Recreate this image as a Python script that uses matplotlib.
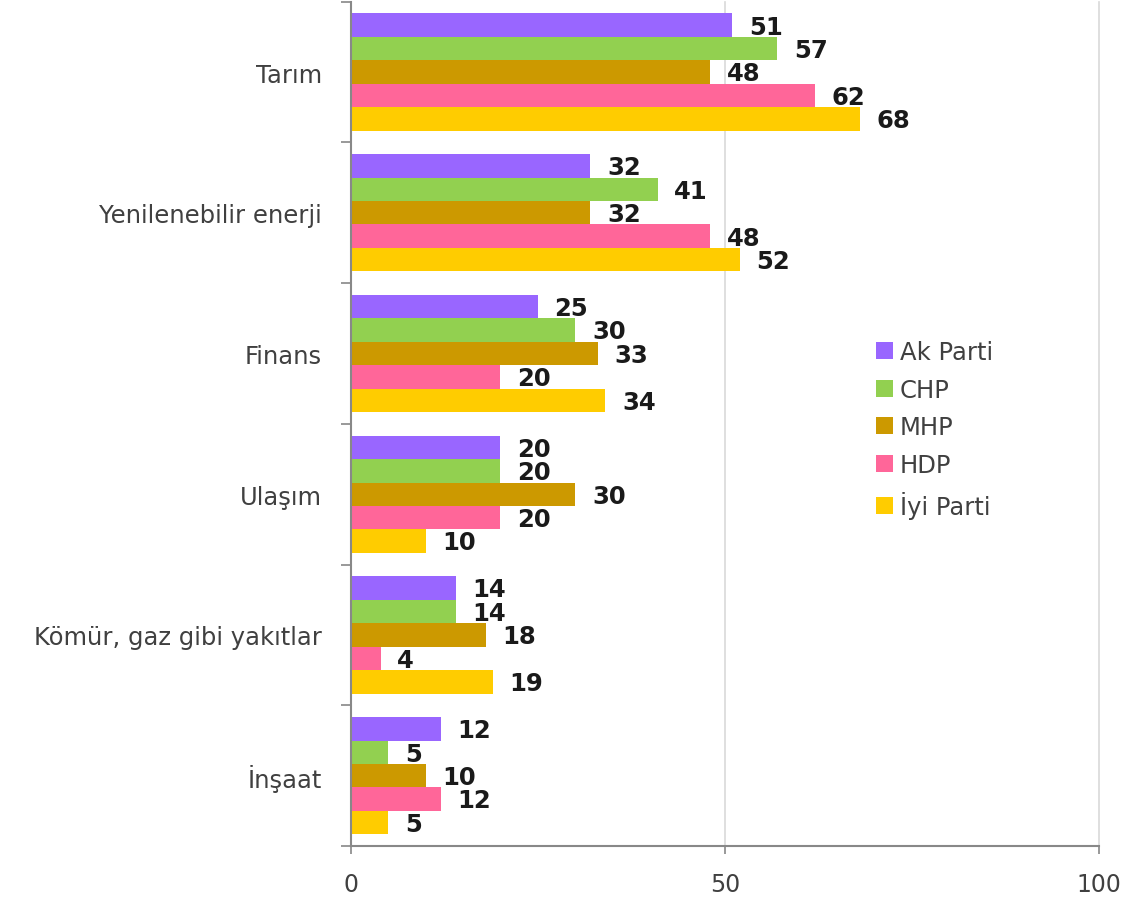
import numpy as np
import matplotlib

matplotlib.use("Agg")
import matplotlib.pyplot as plt

categories = ["Tarım", "Yenilenebilir enerji", "Finans", "Ulaşım",
              "Kömür, gaz gibi yakıtlar", "İnşaat"]
parties = ["Ak Parti", "CHP", "MHP", "HDP", "İyi Parti"]
colors = ["#9966FF", "#92D050", "#CC9900", "#FF6699", "#FFCC00"]

ak_parti = [51, 32, 25, 20, 14, 12]
chp = [57, 41, 30, 20, 14, 5]
mhp = [48, 32, 33, 30, 18, 10]
hdp = [62, 48, 20, 20, 4, 12]
iyi_parti = [68, 52, 34, 10, 19, 5]
series = [ak_parti, chp, mhp, hdp, iyi_parti]

fig = plt.figure(figsize=(11.39, 9.03), dpi=100)
ax = fig.add_axes([0.308, 0.062, 0.657, 0.935])

n = len(categories)
y = np.arange(n)
h = 0.1665
for i, (name, vals, c) in enumerate(zip(parties, series, colors)):
    pos = y - 2 * h + i * h
    bars = ax.barh(pos, vals, height=h, color=c, label=name)
    for b, v in zip(bars, vals):
        ax.annotate(str(v), (v, b.get_y() + h / 2), xytext=(12, -1),
                    textcoords="offset points", va="center", ha="left",
                    fontsize=17.5, fontweight="bold", color="#1a1a1a")

ax.set_xlim(0, 100)
ax.set_ylim(n - 0.5, -0.5)
ax.set_xticks([0, 50, 100])
ax.tick_params(axis="x", labelsize=17, colors="#404040", length=6, width=1.2,
               pad=13, color="#888888")
ax.set_yticks(np.arange(-0.5, n, 1.0))
ax.set_yticklabels([])
ax.set_yticks(y, categories, minor=True)
ax.tick_params(axis="y", which="major", length=7, width=1.2, color="#888888")
ax.tick_params(axis="y", which="minor", length=0, labelsize=17.5, colors="#404040", pad=21)
ax.grid(axis="x", color="#d9d9d9", linewidth=1.2)
for gl in ax.get_xgridlines():
    gl.set_clip_on(False)
ax.set_axisbelow(True)
for s in ["top", "right"]:
    ax.spines[s].set_visible(False)
for s in ["left", "bottom"]:
    ax.spines[s].set_color("#888888")
    ax.spines[s].set_linewidth(1.5)

leg = ax.legend(loc="upper left", bbox_to_anchor=(0.672, 0.625), frameon=False,
                fontsize=17.5, handlelength=0.7, handleheight=0.7,
                handletextpad=0.3, labelspacing=0.56, labelcolor="#404040")

fig.savefig("out.png", dpi=100)
